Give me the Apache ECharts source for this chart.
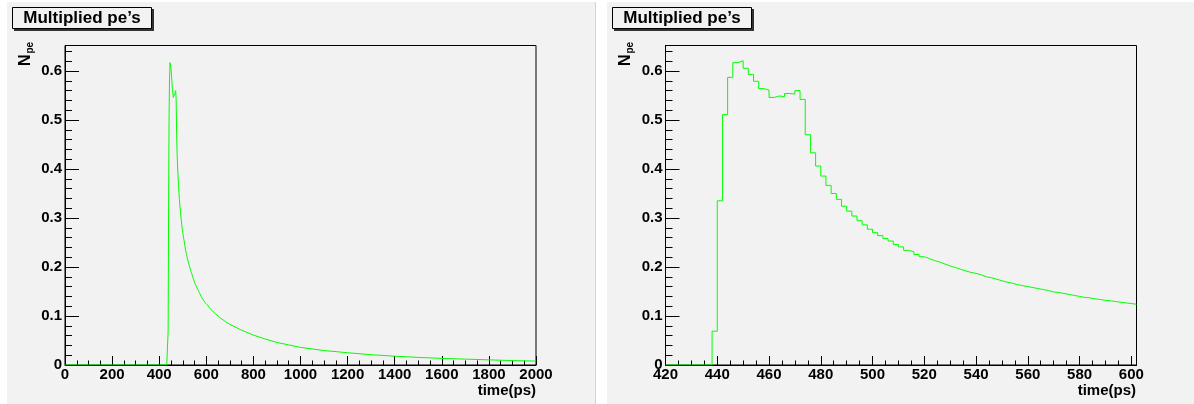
<!DOCTYPE html>
<html><head><meta charset="utf-8">
<script src="https://cdn.jsdelivr.net/npm/echarts@6/dist/echarts.min.js"></script>
<style>html,body{margin:0;padding:0;background:#fff}#c{width:1194px;height:404px}</style>
</head><body><div id="c"></div>
<script>
// ---- data ----
const titleText = 'Multiplied pe\u2019s';
const xAxisTitle = 'time(ps)';
const yTitleMain = 'N';
const yTitleSub = 'pe';

const baselineStartTime = 0;      // histogram is empty from here up to binStart
const binStart = 420;             // left edge of first bin (ps)
const binWidth = 2;               // ps
const binValues = [
  0, 0, 0, 0, 0, 0, 0, 0, 0,
  0.069, 0.335, 0.511, 0.587, 0.617, 0.621, 0.6055, 0.593, 0.579, 0.564,
  0.561, 0.546, 0.549, 0.5475, 0.554, 0.553, 0.560, 0.542, 0.470, 0.433,
  0.406, 0.3855, 0.3665, 0.350, 0.338, 0.324, 0.314, 0.304, 0.2945, 0.286,
  0.277, 0.270, 0.264, 0.258, 0.253, 0.246, 0.241, 0.234, 0.231, 0.2255,
  0.221, 0.217, 0.213, 0.210, 0.206, 0.202, 0.199, 0.1955, 0.192, 0.189,
  0.187, 0.184, 0.180, 0.178, 0.175, 0.172, 0.169, 0.167, 0.164, 0.162,
  0.160, 0.158, 0.156, 0.154, 0.152, 0.149, 0.148, 0.146, 0.144, 0.142,
  0.140, 0.138, 0.137, 0.135, 0.1336, 0.132, 0.131, 0.1295, 0.128, 0.1267,
  0.1254, 0.124
];
const tailTimes  = [620, 640, 660, 680, 700, 750, 800, 850, 900, 950, 1000, 1100, 1200, 1300, 1400, 1500, 1600, 1700, 1800, 1900, 2000];
const tailValues = [0.113, 0.104, 0.096, 0.089, 0.083, 0.071, 0.061, 0.053, 0.046, 0.041, 0.036, 0.0295, 0.025, 0.021, 0.018, 0.0155, 0.0135, 0.012, 0.0105, 0.009, 0.008];

const leftXRange = [0, 2000], leftXMajor = 200, leftXMinor = 50;
const rightXRange = [420, 602], rightXMajor = 20, rightXMinor = 5;
const yRange = [0, 0.652], yMajor = 0.1, yMinor = 0.02;

// ---- build ----
const binPoints = binValues.map((v, i) => [binStart + i * binWidth, v]);
binPoints.push([binStart + binValues.length * binWidth, binValues[binValues.length - 1]]);
const leftHist = [[baselineStartTime, 0]].concat(binPoints);
const lastPt = binPoints[binPoints.length - 1];
const tailPoints = [lastPt].concat(tailTimes.map((t, i) => [t, tailValues[i]]));

const FONT = '"Liberation Sans", Arial, Helvetica, sans-serif';
const PAD = '#f2f2f2';
const GREEN = '#00ff00';

const grids = [
  { left: 65, top: 45.5, width: 471, height: 319.5 },
  { left: 665.5, top: 45.5, width: 471, height: 319.5 }
];

function xAxes(gi, range, major, minor) {
  return [
    { type: 'value', gridIndex: gi, position: 'bottom', min: range[0], max: range[1], interval: major,
      axisLine: { show: true, lineStyle: { color: '#000', width: 1 } },
      axisTick: { show: true, inside: true, length: 9, lineStyle: { color: '#000' } },
      axisLabel: { show: true, margin: 2, color: '#000', fontFamily: FONT, fontWeight: 'bold', fontSize: 15,
        showMaxLabel: range[1] % major === 0, formatter: v => String(Math.round(v)) },
      splitLine: { show: false } },
    { type: 'value', gridIndex: gi, position: 'bottom', min: range[0], max: range[1], interval: minor,
      axisLine: { show: false },
      axisTick: { show: true, inside: true, length: 4.5, lineStyle: { color: '#000' } },
      axisLabel: { show: false }, splitLine: { show: false } }
  ];
}
function yAxes(gi) {
  return [
    { type: 'value', gridIndex: gi, position: 'left', min: yRange[0], max: yRange[1], interval: yMajor,
      axisLine: { show: true, lineStyle: { color: '#000', width: 1 } },
      axisTick: { show: true, inside: true, length: 14, lineStyle: { color: '#000' } },
      axisLabel: { show: true, margin: 3, color: '#000', fontFamily: FONT, fontWeight: 'bold', fontSize: 15, showMaxLabel: false,
        formatter: v => (Math.round(v * 10) / 10).toString() },
      splitLine: { show: false } },
    { type: 'value', gridIndex: gi, position: 'left', min: yRange[0], max: yRange[1], interval: yMinor,
      axisLine: { show: false },
      axisTick: { show: true, inside: true, length: 7, lineStyle: { color: '#000' } },
      axisLabel: { show: false }, splitLine: { show: false } }
  ];
}

function padGraphics(dx) {
  return [
    { type: 'rect', z: -10, shape: { x: 7 + dx, y: 2, width: 588, height: 402 }, style: { fill: PAD } },
    { type: 'line', z: -9, shape: { x1: 595.5 + dx, y1: 2, x2: 595.5 + dx, y2: 404 }, style: { stroke: '#d4d4d4', lineWidth: 1 } },
    { type: 'rect', z: 10, shape: { x: 14 + dx, y: 9, width: 140, height: 22 }, style: { fill: '#333' } },
    { type: 'rect', z: 11, shape: { x: 12.5 + dx, y: 7.5, width: 139, height: 21 }, style: { fill: PAD, stroke: '#000', lineWidth: 1 } },
    { type: 'text', z: 12, x: 82 + dx, y: 18, style: { text: titleText, font: 'bold 17px ' + FONT, fill: '#000', align: 'center', verticalAlign: 'middle', textAlign: 'center', textVerticalAlign: 'middle' } },
    { type: 'text', z: 12, x: 25.5 + dx, y: 66, rotation: Math.PI / 2, style: { text: yTitleMain, font: 'bold 16px ' + FONT, fill: '#000', align: 'left', verticalAlign: 'middle', textAlign: 'left', textVerticalAlign: 'middle' } },
    { type: 'text', z: 12, x: 30 + dx, y: 53.5, rotation: Math.PI / 2, style: { text: yTitleSub, font: 'bold 10px ' + FONT, fill: '#000', align: 'left', verticalAlign: 'middle', textAlign: 'left', textVerticalAlign: 'middle' } },
    { type: 'text', z: 12, x: 536 + dx, y: 390.5, style: { text: xAxisTitle, font: 'bold 15px ' + FONT, fill: '#000', align: 'right', verticalAlign: 'middle', textAlign: 'right', textVerticalAlign: 'middle' } }
  ];
}

const chart = echarts.init(document.getElementById('c'), null, { renderer: 'canvas' });
chart.setOption({
  animation: false,
  backgroundColor: '#fff',
  grid: grids.map(g => Object.assign({ show: true, borderColor: '#000', borderWidth: 1, backgroundColor: 'transparent', containLabel: false }, g)),
  xAxis: xAxes(0, leftXRange, leftXMajor, leftXMinor).concat(xAxes(1, rightXRange, rightXMajor, rightXMinor)),
  yAxis: yAxes(0).concat(yAxes(1)),
  series: [
    { type: 'line', xAxisIndex: 0, yAxisIndex: 0, data: leftHist, step: 'end', symbol: 'none', lineStyle: { color: GREEN, width: 1 }, silent: true },
    { type: 'line', xAxisIndex: 0, yAxisIndex: 0, data: tailPoints, symbol: 'none', lineStyle: { color: GREEN, width: 1 }, silent: true },
    { type: 'line', xAxisIndex: 2, yAxisIndex: 2, data: binPoints, step: 'end', symbol: 'none', lineStyle: { color: GREEN, width: 1 }, silent: true }
  ],
  graphic: padGraphics(0).concat(padGraphics(600))
});
</script>
</body></html>
